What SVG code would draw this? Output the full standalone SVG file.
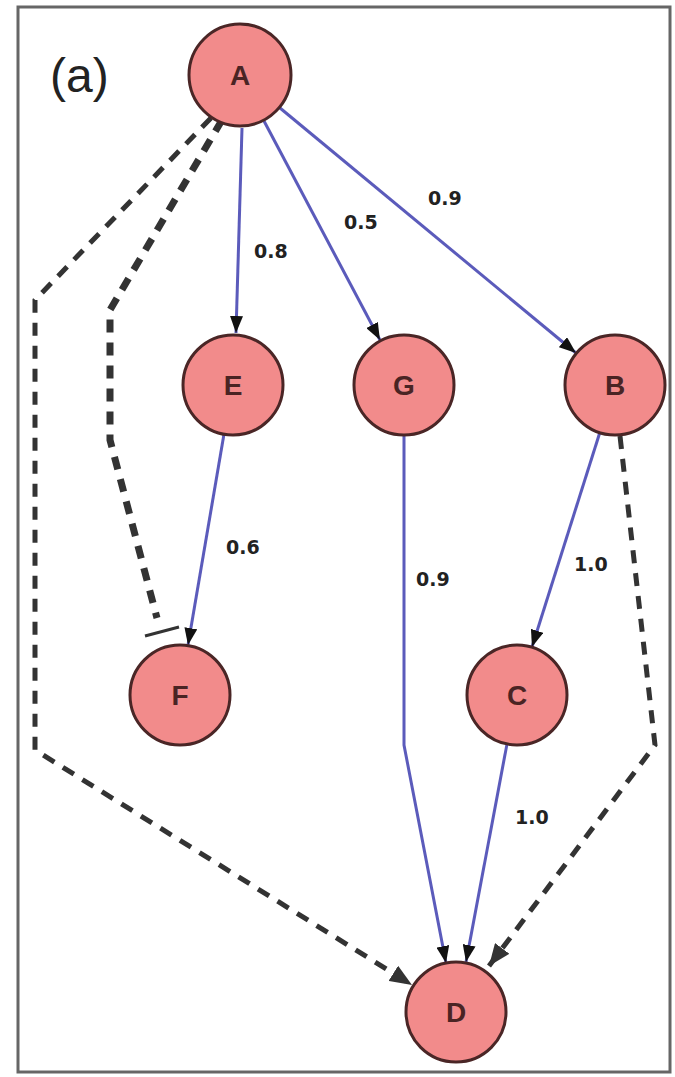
<svg xmlns="http://www.w3.org/2000/svg" width="675" height="1077" viewBox="0 0 675 1077">
<style>
.node circle{fill:#f28b8b;stroke:#4a2626;stroke-width:3}
.node text{font-family:"Liberation Sans",Arial,sans-serif;font-weight:bold;font-size:28px;fill:#4a2424;text-anchor:middle;dominant-baseline:central}
.e{fill:none;stroke:#5b5bbb;stroke-width:3}
.d{fill:none;stroke:#333;stroke-width:5;stroke-dasharray:13 10}
.lbl{font-family:"DejaVu Sans",sans-serif;font-weight:bold;font-size:19px;fill:#222}
</style>
<defs>
<marker id="ah" markerWidth="17" markerHeight="13" refX="17" refY="6.5" orient="auto" markerUnits="userSpaceOnUse"><path d="M0,0 L17,6.5 L0,13 Z" fill="#111"/></marker>
<marker id="dh" markerWidth="22" markerHeight="18" refX="22" refY="9" orient="auto" markerUnits="userSpaceOnUse"><path d="M0,0 L22,9 L0,18 Z" fill="#333"/></marker>
</defs>
<rect x="18" y="7" width="652" height="1065" fill="#fff" stroke="#666" stroke-width="3"/>
<text x="50" y="92" font-family="Liberation Sans,Arial,sans-serif" font-size="48" fill="#222">(a)</text>
<g id="connectors">
<path class="e" d="M242,128 L236,333" marker-end="url(#ah)"/>
<path class="e" d="M264,121 L380,340" marker-end="url(#ah)"/>
<path class="e" d="M280,108 L576,353" marker-end="url(#ah)"/>
<path class="e" d="M224,434 L188,645" marker-end="url(#ah)"/>
<path class="e" d="M404,435 L404,745 L446,963" marker-end="url(#ah)"/>
<path class="e" d="M600,432 L532,647" marker-end="url(#ah)"/>
<path class="e" d="M507,744 L466,962" marker-end="url(#ah)"/>
<path class="d" d="M211,118 L35,300 L35,750 L412,985" marker-end="url(#dh)"/>
<path class="d" d="M620,436 L655,745 L489,966" marker-end="url(#dh)"/>
<path class="d" style="stroke-width:7" d="M222,120 L110,310 L110,440 L157,618"/>
<path d="M145,636 L179,627" stroke="#333" stroke-width="3"/>
<text class="lbl" x="254" y="258">0.8</text>
<text class="lbl" x="344" y="229">0.5</text>
<text class="lbl" x="428" y="205">0.9</text>
<text class="lbl" x="226" y="554">0.6</text>
<text class="lbl" x="416" y="586">0.9</text>
<text class="lbl" x="574" y="571">1.0</text>
<text class="lbl" x="515" y="824">1.0</text>
</g>
<g id="A" class="node"><circle cx="240" cy="75" r="51"/><text x="240" y="75">A</text></g>
<g id="E" class="node"><circle cx="233" cy="385" r="50"/><text x="233" y="385">E</text></g>
<g id="G" class="node"><circle cx="404" cy="385" r="50"/><text x="404" y="385">G</text></g>
<g id="B" class="node"><circle cx="615" cy="385" r="50"/><text x="615" y="385">B</text></g>
<g id="F" class="node"><circle cx="180" cy="695" r="50"/><text x="180" y="695">F</text></g>
<g id="C" class="node"><circle cx="517" cy="695" r="50"/><text x="517" y="695">C</text></g>
<g id="D" class="node"><circle cx="456" cy="1012" r="50"/><text x="456" y="1012">D</text></g>
</svg>
